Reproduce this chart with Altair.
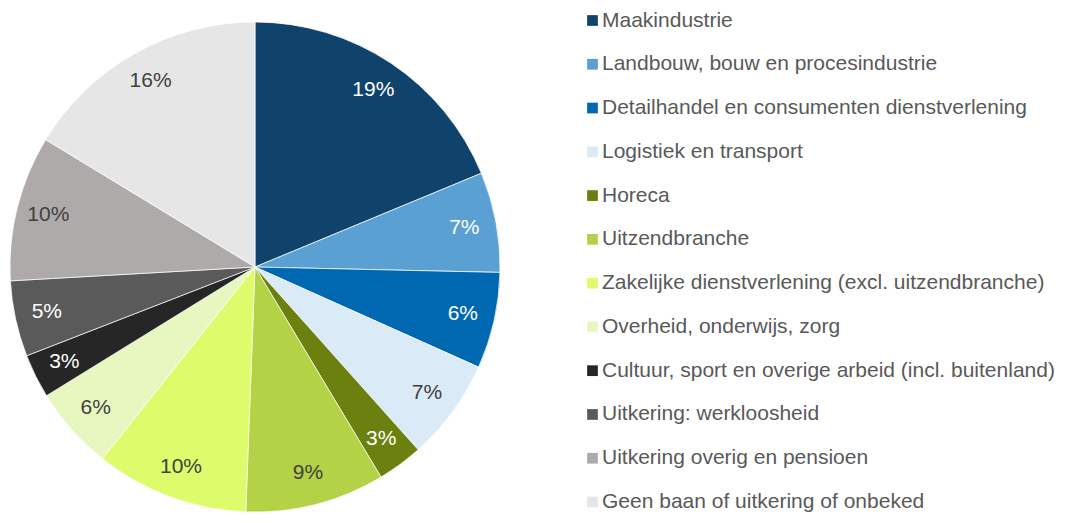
import altair as alt
import pandas as pd

categories = [
    "Maakindustrie",
    "Landbouw, bouw en procesindustrie",
    "Detailhandel en consumenten dienstverlening",
    "Logistiek en transport",
    "Horeca",
    "Uitzendbranche",
    "Zakelijke dienstverlening (excl. uitzendbranche)",
    "Overheid, onderwijs, zorg",
    "Cultuur, sport en overige arbeid (incl. buitenland)",
    "Uitkering: werkloosheid",
    "Uitkering overig en pensioen",
    "Geen baan of uitkering of onbeked",
]
values = [18.75, 6.6, 6.35, 6.7, 3.0, 9.2, 10.1, 5.5, 2.9, 5.0, 9.6, 16.3]
labels = ["19%", "7%", "6%", "7%", "3%", "9%", "10%", "6%", "3%", "5%", "10%", "16%"]
colors = [
    "#0F436C", "#5AA0D3", "#0068B0", "#DAEAF6", "#6B800E", "#B3D245",
    "#DDFB6A", "#E8F7C0", "#262626", "#5A5A5A", "#AEAAAA", "#E6E6E6",
]
dark_label = [0, 0, 0, 1, 0, 1, 1, 1, 0, 0, 1, 1]

df = pd.DataFrame({
    "cat": categories,
    "value": values,
    "label": labels,
    "order": list(range(len(categories))),
    "dark": dark_label,
})

FONT = "Liberation Sans"
CX, CY, R = 247, 259, 245

base = alt.Chart(df)
color = alt.Color("cat:N", scale=alt.Scale(domain=categories, range=colors), legend=None)
theta = alt.Theta("value:Q", stack=True)
order = alt.Order("order:Q")

arc = base.mark_arc(stroke="white", strokeWidth=0.7).encode(
    theta=theta, order=order, color=color,
    x=alt.value(CX), y=alt.value(CY), radius=alt.value(R),
)

txt = base.mark_text(font=FONT, fontSize=21, baseline="middle", align="center").encode(
    theta=theta, order=order, text="label:N",
    color=alt.condition("datum.dark == 1", alt.value("#404040"), alt.value("#FFFFFF")),
    x=alt.value(CX), y=alt.value(CY), radius=alt.value(213),
)

leg_y = alt.Y("cat:N", scale=alt.Scale(type="point", domain=categories, range=[12.5, 494], padding=0), axis=None)

sq = base.mark_point(shape="square", filled=True, size=115, opacity=1).encode(
    x=alt.value(584.5), y=leg_y, color=color,
)
lt = base.mark_text(align="left", baseline="middle", font=FONT, fontSize=21, color="#595959").encode(
    x=alt.value(594), y=leg_y, text="cat:N",
)

chart = alt.layer(arc, txt, sq, lt).properties(
    width=1049, height=507, autosize="none", padding=0,
).configure_view(stroke=None)

chart.save("out.html", embed_options={"renderer": "svg", "actions": False})
